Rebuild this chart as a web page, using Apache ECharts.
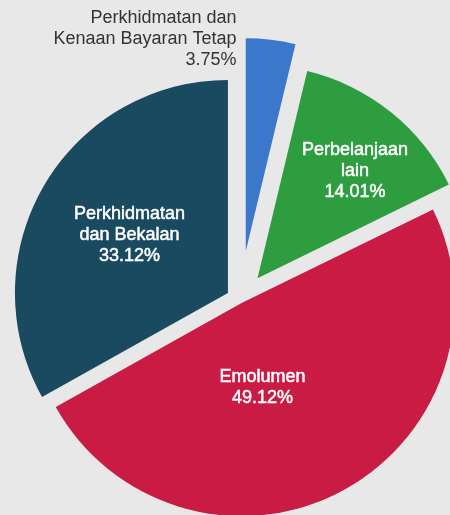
<!DOCTYPE html>
<html>
<head>
<meta charset="utf-8">
<script src="https://cdn.jsdelivr.net/npm/echarts@6/dist/echarts.min.js"></script>
<style>
  html, body { margin: 0; padding: 0; background: #e8e8e8; }
  #chart { width: 450px; height: 515px; }
</style>
</head>
<body>
<div id="chart"></div>
<script>
// Spending breakdown by category (percent of total)
const categories = [
  'Perkhidmatan dan Kenaan Bayaran Tetap',
  'Perbelanjaan lain',
  'Emolumen',
  'Perkhidmatan dan Bekalan'
];
const labelText = [
  'Perkhidmatan dan\nKenaan Bayaran Tetap',
  'Perbelanjaan\nlain',
  'Emolumen',
  'Perkhidmatan\ndan Bekalan'
];
const shares = [3.75, 14.01, 49.12, 33.12];

const colors = ['#3b77cb', '#2e9d40', '#c91b43', '#1a4a5f'];
const labelColors = ['#333333', '#ffffff', '#ffffff', '#ffffff'];
// how far each slice is pulled out from the centre
const explode = [49, 28, 3.5, 14];
// nudges for the slice labels
const labelNudge = [
  { dx: -22, dy: -104, align: 'right' },
  { dx: 29, dy: -22 },
  { dx: -30, dy: -13 },
  { dx: -4, dy: -3 }
];

const chart = echarts.init(document.getElementById('chart'), null, { renderer: 'canvas' });

// one pie layer per slice so every slice can have its own pull-out distance
const series = shares.map((_, k) => ({
  type: 'pie',
  center: [240, 300],
  radius: 213,
  startAngle: 90,
  clockwise: true,
  selectedMode: 'single',
  selectedOffset: explode[k],
  silent: true,
  animation: false,
  avoidLabelOverlap: false,
  labelLine: { show: false },
  labelLayout: labelNudge[k],
  data: shares.map((v, i) => ({
    name: categories[i],
    value: v,
    selected: i === k,
    itemStyle: { color: i === k ? colors[i] : 'rgba(0,0,0,0)' },
    label: {
      show: i === k,
      position: 'inside',
      color: labelColors[i],
      fontFamily: 'Liberation Sans, Arial, sans-serif',
      fontSize: 18,
      lineHeight: 21,
      textBorderColor: i === 0 ? 'transparent' : labelColors[i],
      textBorderWidth: i === 0 ? 0 : 0.5,
      formatter: () => labelText[i] + '\n' + shares[i].toFixed(2) + '%'
    }
  }))
}));

chart.setOption({
  backgroundColor: '#e8e8e8',
  series: series
});
</script>
</body>
</html>
